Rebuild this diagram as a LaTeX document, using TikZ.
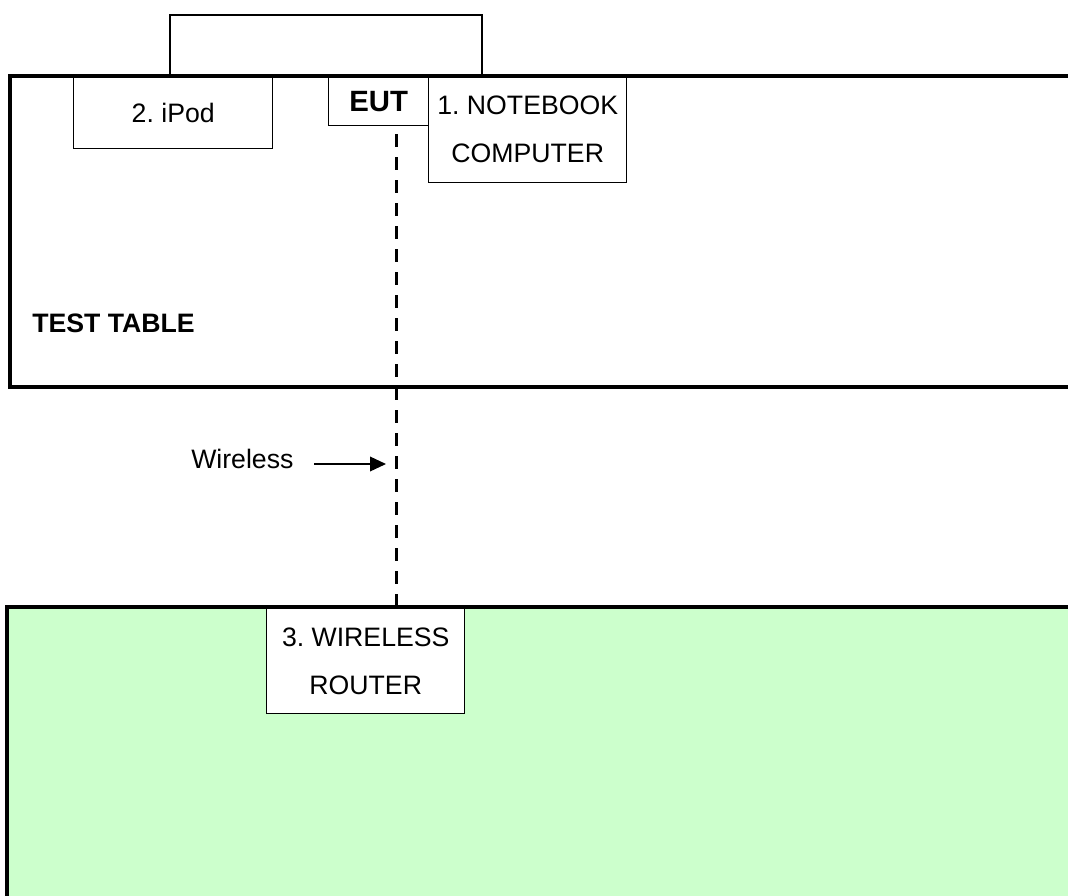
\documentclass[tikz,border=0pt]{standalone}
\usepackage{fontspec}
\setmainfont{Liberation Sans}
\usetikzlibrary{arrows.meta}
\frenchspacing
\definecolor{routergreen}{HTML}{CCFFCC}
\tikzset{
  devbox/.style={draw, line width=1.1pt, inner sep=0pt, anchor=north west, align=center, font=\fontsize{20}{36}\selectfont},
  tableedge/.style={line width=3pt},
  lbl/.style={inner sep=0pt, anchor=west, font=\fontsize{20}{24}\selectfont},
}

\begin{document}
\begin{tikzpicture}[x=0.75pt, y=-0.75pt]
\useasboundingbox (0,0) rectangle (1068,896);

% Router area
\fill[routergreen] (7,607) rectangle (1068,896);
\node[devbox, fill=white, minimum width=148.5pt, minimum height=78.75pt] (router) at (266,608) {3. WIRELESS\\ROUTER};
\draw[tableedge] (1068,607) -- (7,607) -- (7,896);

% Devices on the test table
\node[devbox, minimum width=149.25pt, minimum height=54pt] (ipod) at (73,76) {2. iPod};
\node[devbox, minimum width=75pt, minimum height=36.75pt, font=\fontsize{22}{26}\selectfont\bfseries] (eut) at (328,76) {EUT};
\node[devbox, minimum width=148.5pt, minimum height=79.5pt] (notebook) at (428,76) {1. NOTEBOOK\\COMPUTER};
\draw[line width=1.1pt] (170,76) |- (482,15) -- (482,76);

% Test table
\draw[tableedge] (1068,76) -- (10,76) -- (10,387) -- (1068,387);
\node[lbl, font=\fontsize{20}{24}\selectfont\bfseries] (table) at (32,323) {TEST TABLE};

% Wireless link
\coordinate (linktop) at (396,134);
\draw[line width=2.25pt, dash pattern=on 9.75pt off 7.5pt] (linktop) -- (linktop |- router.north);
\node[lbl] (wless) at (191,459) {Wireless};
\coordinate (wtail) at (314,464);
\coordinate (wtip) at (386,464);
\draw[line width=1.1pt, -{Triangle[length=12pt, width=11pt]}] (wtail) -- (wtip);
\end{tikzpicture}
\end{document}
